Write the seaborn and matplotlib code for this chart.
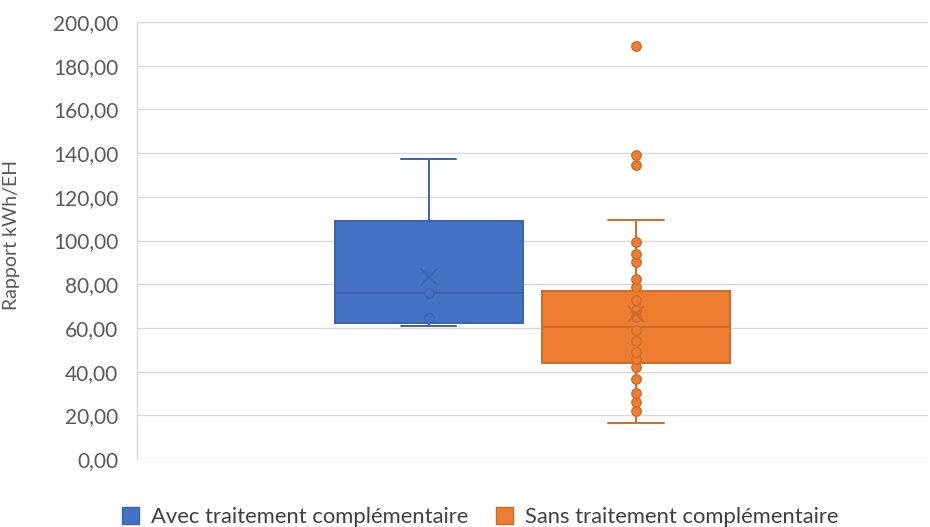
import matplotlib
matplotlib.use("Agg")
import matplotlib.pyplot as plt
from matplotlib.patches import Patch
from matplotlib.ticker import FuncFormatter
import seaborn as sns

# Series names and colours
series = ["Avec traitement complémentaire", "Sans traitement complémentaire"]
fill_colors = ["#4472C4", "#ED7D31"]
edge_colors = ["#3A62AC", "#CF6A2A"]

# Box summaries: lower whisker, Q1, median, Q3, upper whisker
box_avec = [60.9, 62.4, 76.0, 108.9, 137.3]
box_sans = [16.6, 44.1, 60.6, 76.9, 109.5]

# Individual observations between the whiskers
points_avec = [64.4, 76.0]
points_sans = [22.1, 26.2, 30.4, 36.5, 42.3, 45.6, 49.1, 54.1, 59.0,
               64.8, 68.2, 72.8, 78.6, 82.2, 90.2, 93.8, 99.2]

# Observations beyond the whiskers
outliers_avec = []
outliers_sans = [134.6, 139.1, 189.2]

# Series means
means = [83.2, 66.5]

y_ticks = [0, 20, 40, 60, 80, 100, 120, 140, 160, 180, 200]

sns.set_theme(style="white")
plt.rcParams["font.family"] = ["Lato", "DejaVu Sans"]

fig = plt.figure(figsize=(9.3, 5.27), dpi=100)
ax = fig.add_axes([0.1473, 0.1290, 0.8505, 0.8292])

boxes = [box_avec, box_sans]
points = [points_avec, points_sans]
outliers = [outliers_avec, outliers_sans]

for name, box, pts, outs, mean, fc, ec in zip(series, boxes, points, outliers,
                                               means, fill_colors, edge_colors):
    sns.boxplot(x=[name] * len(box), y=box, order=series, color=fc,
                linecolor=ec, saturation=1, width=0.908, whis=(0, 100),
                showfliers=False, linewidth=1.4, capwidths=0.266, ax=ax)
    marks = pts + outs
    if marks:
        sns.stripplot(x=[name] * len(marks), y=marks, order=series, color=fc,
                      edgecolor=ec, linewidth=1.0, size=6.8, jitter=False,
                      zorder=3, ax=ax)
    sns.pointplot(x=[name], y=[mean], order=series, color=ec, marker="x",
                  linestyle="none", markersize=11, markeredgewidth=1.4,
                  errorbar=None, zorder=4, ax=ax)

ax.set_ylim(0, 200)
ax.set_xlim(-1.41, 2.41)
ax.set_yticks(y_ticks)
ax.yaxis.set_major_formatter(
    FuncFormatter(lambda v, _: f"{v:.2f}".replace(".", ",")))
ax.set_xticks([])
ax.set_xlabel("")
ax.set_ylabel("Rapport kWh/EH", fontsize=14, color="#595959")
ax.yaxis.set_label_coords(-0.148, 0.513)

ax.yaxis.grid(True, color="#d9d9d9", linewidth=1.0)
ax.set_axisbelow(True)
for side in ["top", "right", "bottom"]:
    ax.spines[side].set_visible(False)
ax.spines["left"].set_color("#d9d9d9")
ax.spines["left"].set_linewidth(1.0)
ax.tick_params(axis="y", length=0, pad=13.5, labelsize=15,
               labelcolor="#595959")

handles = [Patch(facecolor=fc, edgecolor=ec, linewidth=1.0)
           for fc, ec in zip(fill_colors, edge_colors)]
fig.legend(handles, series, loc="center", bbox_to_anchor=(0.516, 0.019),
           ncol=2, frameon=False, fontsize=15.8, handlelength=0.78,
           handleheight=0.78, handletextpad=0.55, columnspacing=1.25,
           borderpad=0.0, labelcolor="#404040")

fig.savefig("out.png", dpi=100)
